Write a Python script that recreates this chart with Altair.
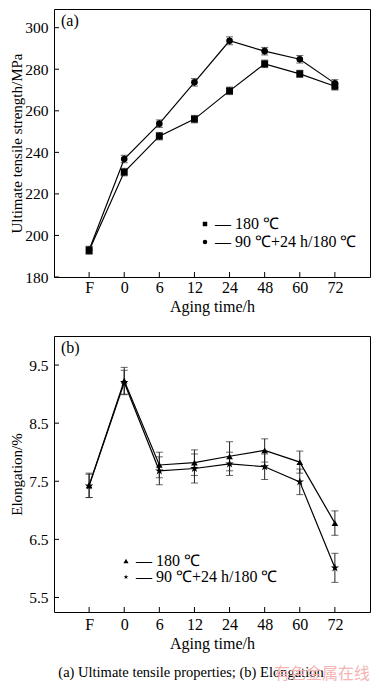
import altair as alt
import pandas as pd

# ---- data ----
cats = ["F", "0", "6", "12", "24", "48", "60", "72"]
series_names = ["180 ℃", "90 ℃+24 h/180 ℃"]

uts_180 = [192.8, 230.5, 247.8, 256.0, 269.6, 282.6, 277.8, 271.8]
uts_180_err = [1.8, 1.8, 1.8, 1.8, 1.8, 1.8, 1.7, 1.8]
uts_dual = [193.0, 236.8, 253.8, 273.7, 293.7, 288.7, 284.8, 273.2]
uts_dual_err = [1.8, 1.8, 1.8, 1.8, 1.9, 1.8, 1.8, 1.8]

elong_180 = [7.43, 9.23, 7.78, 7.82, 7.93, 8.03, 7.83, 6.78]
elong_180_err = [0.21, 0.23, 0.22, 0.22, 0.25, 0.20, 0.19, 0.21]
elong_dual = [7.42, 9.20, 7.68, 7.72, 7.80, 7.75, 7.49, 6.01]
elong_dual_err = [0.20, 0.21, 0.24, 0.25, 0.20, 0.22, 0.22, 0.25]

uts_ticks = [180, 200, 220, 240, 260, 280, 300]
elong_ticks = [5.5, 6.5, 7.5, 8.5, 9.5]

caption = "(a) Ultimate tensile properties; (b) Elongation"
watermark = "有色金属在线"

STAR = ("M0,-1L0.2245,-0.309L0.951,-0.309L0.363,0.118L0.588,0.809L0,0.382"
        "L-0.588,0.809L-0.363,0.118L-0.951,-0.309L-0.2245,-0.309Z")

FONT = "Liberation Serif"
W = 316


def make_df(v1, e1, v2, e2):
    rows = []
    for s, v, e in [(series_names[0], v1, e1), (series_names[1], v2, e2)]:
        for i, c in enumerate(cats):
            rows.append(dict(cat=c, idx=i, series=s, val=v[i],
                             lo=v[i] - e[i], hi=v[i] + e[i]))
    return pd.DataFrame(rows)


def panel(df, ydom, yticks, ytitle, yfmt, H, tag, shapes, psizes,
          lx, ly, ssize, rowpad, lpad, extra=None):
    xaxis = alt.Axis(title="Aging time/h", labelAngle=0, ticks=False,
                     domain=False, grid=False, labelPadding=lpad,
                     titlePadding=3, labelFontSize=16, titleFontSize=16)
    yaxis = alt.Axis(title=ytitle, values=yticks, format=yfmt, ticks=False,
                     domain=False, grid=False, labelPadding=6, titlePadding=1,
                     minExtent=29, maxExtent=29, labelFontSize=15.5,
                     titleFontSize=15)
    X = alt.X("cat:O", scale=alt.Scale(type="point", padding=1, domain=cats),
              axis=xaxis)

    def Y(f):
        return alt.Y(f + ":Q", scale=alt.Scale(domain=ydom, nice=False,
                                               zero=False), axis=yaxis)

    shape_enc = alt.Shape(
        "series:N", scale=alt.Scale(domain=series_names, range=shapes),
        legend=alt.Legend(title=None, orient="none", legendX=lx, legendY=ly,
                          labelExpr="'\u2014 ' + datum.label",
                          symbolSize=ssize, symbolFillColor="black",
                          symbolStrokeWidth=0, labelFont=FONT,
                          labelFontSize=16, labelColor="black",
                          rowPadding=rowpad, padding=0, labelOffset=2))

    base = alt.Chart(df)
    line = base.mark_line(color="black", strokeWidth=1.2).encode(
        x=X, y=Y("val"), detail="series:N", order="idx:Q")
    bars = base.mark_rule(color="#222222", strokeWidth=1).encode(
        x=X, y=Y("lo"), y2="hi:Q")
    cap_lo = base.mark_tick(color="#222222", size=7, thickness=1,
                            orient="horizontal").encode(x=X, y=Y("lo"))
    cap_hi = base.mark_tick(color="#222222", size=7, thickness=1,
                            orient="horizontal").encode(x=X, y=Y("hi"))
    pts = []
    for s, sz in zip(series_names, psizes):
        pts.append(base.transform_filter(alt.datum.series == s).mark_point(
            filled=True, opacity=1, color="black", size=sz).encode(
            x=X, y=Y("val"), shape=shape_enc))
    ytk = alt.Chart(pd.DataFrame({"v": yticks})).mark_rule(
        color="black", strokeWidth=1).encode(
        y=Y("v"), x=alt.value(0), x2=alt.value(5))
    xtk = alt.Chart(pd.DataFrame({"cat": cats})).mark_rule(
        color="black", strokeWidth=1).encode(
        x=X, y=alt.value(H - 5), y2=alt.value(H))
    lab = alt.Chart(pd.DataFrame({"t": [tag]})).mark_text(
        font=FONT, fontSize=16, align="left", baseline="middle",
        color="black").encode(text="t:N", x=alt.value(7), y=alt.value(12))
    layers = [line, bars, cap_lo, cap_hi] + pts + [ytk, xtk, lab]
    if extra:
        layers += extra
    return alt.layer(*layers).properties(width=W, height=H)


H_A = 268
H_B = 276

cap_layer = alt.Chart(pd.DataFrame({"t": [caption]})).mark_text(
    font=FONT, fontSize=14.5, align="center", baseline="middle",
    color="black").encode(text="t:N", x=alt.value(137),
                          y=alt.value(H_B + 61))
wm_layer = alt.Chart(pd.DataFrame({"t": [watermark]})).mark_text(
    font="Noto Sans CJK SC", fontSize=16, align="right", baseline="middle",
    color="#f4b4b4").encode(text="t:N", x=alt.value(W),
                             y=alt.value(H_B + 62))

pa = panel(make_df(uts_180, uts_180_err, uts_dual, uts_dual_err),
           [180, 309], uts_ticks, "Ultimate tensile strength/MPa", "d",
           H_A, "(a)", ["square", "circle"], [48, 44], 143, 207, 20, 2, 2)
pb = panel(make_df(elong_180, elong_180_err, elong_dual, elong_dual_err),
           [5.25, 10.0], elong_ticks, "Elongation/%", ".1f",
           H_B, "(b)", ["triangle-up", STAR], [44, 80], 64, 217, 26, 0, 4,
           extra=[cap_layer, wm_layer])

chart = alt.vconcat(pa, pb, spacing=20).resolve_scale(
    x="independent", y="independent", shape="independent"
).resolve_legend(shape="independent").properties(
    padding=0
).configure_view(
    stroke="black", strokeWidth=1
).configure_axis(
    labelFont=FONT, titleFont=FONT, labelColor="black", titleColor="black",
    titleFontWeight="normal", grid=False
)

chart.save("out.html", embed_options={"renderer": "svg", "actions": False})
